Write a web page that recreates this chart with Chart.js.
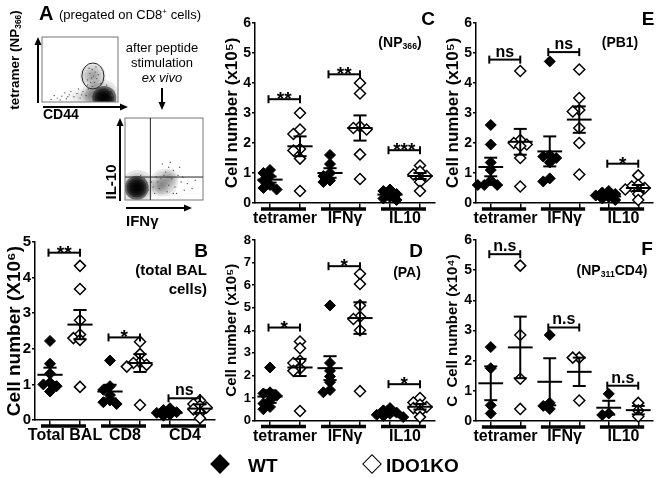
<!DOCTYPE html>
<html>
<head>
<meta charset="utf-8">
<script src="https://cdn.jsdelivr.net/npm/chart.js@4.4.0/dist/chart.umd.min.js"></script>
<style>
  body { margin: 0; width: 664px; height: 478px; position: relative; background: #fff; overflow: hidden;
         font-family: "Liberation Sans", Arial, sans-serif; color: #000; }
  canvas { position: absolute; }
  .t { position: absolute; white-space: nowrap; line-height: 1; font-weight: bold; }
  .n { font-weight: normal; }
  .c { transform: translate(-50%, -50%); }
  .r { transform: translate(-100%, -50%); }
  .l { transform: translate(0, -50%); }
  .rot { transform: translate(-50%, -50%) rotate(-90deg); }
  sub, sup { font-size: 0.62em; line-height: 0; }
  sub { vertical-align: -0.25em; }
  sup { vertical-align: 0.55em; }
  .dia { position: absolute; width: 14px; height: 14px; transform: translate(-50%, -50%) rotate(45deg); box-sizing: border-box; }
</style>
</head>
<body>
<canvas id="flowTop" style="left:0;top:20px" width="135" height="100"></canvas>
<canvas id="flowBottom" style="left:100px;top:80px" width="120" height="140"></canvas>
<canvas id="chartC" style="left:220px;top:0" width="222" height="240"></canvas>
<canvas id="chartE" style="left:441px;top:0" width="223" height="240"></canvas>
<canvas id="chartB" style="left:0;top:230px" width="222" height="250"></canvas>
<canvas id="chartD" style="left:220px;top:230px" width="222" height="250"></canvas>
<canvas id="chartF" style="left:441px;top:230px" width="223" height="250"></canvas>

<!-- panel A text -->
<div class="t l" style="left:39px;top:13px;font-size:20px">A</div>
<div class="t l n" style="left:59px;top:14px;font-size:13px">(pregated on CD8<sup>+</sup> cells)</div>
<div class="t rot" style="left:15px;top:60px;font-size:13.5px">tetramer (NP<sub>366</sub>)</div>
<div class="t l" style="left:43px;top:114px;font-size:14px">CD44</div>
<div class="t c n" style="left:162px;top:47px;font-size:13px">after peptide</div>
<div class="t c n" style="left:162px;top:62px;font-size:13px">stimulation</div>
<div class="t c n" style="left:162px;top:77px;font-size:13px;font-style:italic">ex vivo</div>
<div class="t rot" style="left:110px;top:182px;font-size:15px">IL-10</div>
<div class="t l" style="left:126px;top:220px;font-size:15px">IFNγ</div>

<!-- panel letters / notes -->
<div class="t c" style="left:201px;top:250px;font-size:19px">B</div>
<div class="t r" style="left:207px;top:269px;font-size:15px">(total BAL</div>
<div class="t r" style="left:207px;top:288px;font-size:15px">cells)</div>
<div class="t c" style="left:428px;top:18px;font-size:19px">C</div>
<div class="t c" style="left:400px;top:42px;font-size:14px">(NP<sub>366</sub>)</div>
<div class="t c" style="left:416px;top:250px;font-size:19px">D</div>
<div class="t c" style="left:407px;top:272px;font-size:14px">(PA)</div>
<div class="t c" style="left:648px;top:18px;font-size:19px">E</div>
<div class="t c" style="left:620px;top:42px;font-size:14px">(PB1)</div>
<div class="t c" style="left:647px;top:248px;font-size:19px">F</div>
<div class="t c" style="left:612px;top:270px;font-size:14px">(NP<sub>311</sub>CD4)</div>

<!-- legend -->
<div class="dia" style="left:220px;top:464px;background:#000"></div>
<div class="t l" style="left:248px;top:465px;font-size:19px">WT</div>
<div class="dia" style="left:372px;top:464px;border:1.3px solid #000;background:#fff"></div>
<div class="t l" style="left:386px;top:465px;font-size:19px">IDO1KO</div>

<script>
const FONT = '"Liberation Sans", Arial, sans-serif';

// ---- categories ----
const groupsB = ['Total BAL', 'CD8', 'CD4'];
const groupsT = ['tetramer', 'IFNγ', 'IL10'];

// ---- B: total BAL cells (x10^6) ----
const wtB = [[2.22, 1.58, 1.3, 1.05, 1.0, 0.95, 0.8], [1.67, 0.95, 0.85, 0.7, 0.55, 0.5, 0.45], [0.33, 0.28, 0.22, 0.2, 0.15, 0.12]];
const koB = [[4.33, 3.68, 2.8, 2.4, 2.3, 2.25, 0.93], [2.2, 1.85, 1.62, 1.6, 1.55, 1.5, 0.42], [0.55, 0.45, 0.4, 0.35, 0.3, 0.2, 0.05]];
const wtMeanB = [1.27, 0.8, 0.2], wtSemB = [0.2, 0.19, 0.04];
const koMeanB = [2.68, 1.6, 0.32], koSemB = [0.41, 0.25, 0.12];
const sigYB = [4.7, 2.32, 0.61], sigB = ['**', '*', 'ns'];

// ---- C: NP366 (x10^5) ----
const wtC = [[1.1, 1.0, 0.9, 0.75, 0.6, 0.5, 0.45], [1.6, 1.3, 1.0, 0.9, 0.75, 0.7], [0.45, 0.4, 0.3, 0.2, 0.15, 0.1]];
const koC = [[3.0, 2.45, 2.3, 1.8, 1.75, 1.48, 0.4], [4.0, 3.65, 2.55, 2.5, 2.45, 1.62, 0.8], [1.25, 1.05, 0.95, 0.9, 0.7, 0.4]];
const wtMeanC = [0.78, 1.0, 0.28], wtSemC = [0.1, 0.16, 0.06];
const koMeanC = [1.89, 2.5, 0.9], koSemC = [0.33, 0.42, 0.1];
const sigYC = [3.46, 4.29, 1.76], sigC = ['**', '**', '***'];

// ---- D: PA (x10^5) ----
const wtD = [[2.35, 1.25, 1.2, 1.1, 0.9, 0.75, 0.6, 0.5], [5.1, 2.55, 2.2, 1.95, 1.7, 1.35, 1.25], [0.55, 0.45, 0.35, 0.3, 0.25, 0.2, 0.15]];
const koD = [[3.5, 3.2, 2.65, 2.55, 2.3, 2.2, 0.42], [6.5, 6.05, 5.1, 4.6, 4.5, 4.0, 1.3], [1.0, 0.8, 0.7, 0.6, 0.55, 0.4, 0.15]];
const wtMeanD = [1.06, 2.32, 0.3], wtSemD = [0.28, 0.53, 0.07];
const koMeanD = [2.35, 4.54, 0.61], koSemD = [0.38, 0.7, 0.12];
const sigYD = [4.12, 6.84, 1.61], sigD = ['*', '*', '*'];

// ---- E: PB1 (x10^5) ----
const wtE = [[2.6, 1.95, 1.35, 1.1, 0.75, 0.6, 0.6, 0.6], [4.72, 1.6, 1.55, 1.5, 1.35, 0.82, 0.72], [0.4, 0.35, 0.3, 0.25, 0.2, 0.15, 0.1]];
const koE = [[4.4, 2.1, 2.0, 1.95, 1.9, 1.5, 0.55], [4.45, 3.5, 3.1, 3.05, 2.5, 2.0, 0.95], [0.92, 0.6, 0.55, 0.5, 0.45, 0.3, 0.1]];
const wtMeanE = [1.2, 1.72, 0.22], wtSemE = [0.31, 0.5, 0.05];
const koMeanE = [2.04, 2.78, 0.5], koSemE = [0.43, 0.44, 0.1];
const sigYE = [4.78, 5.03, 1.31], sigE = ['ns', 'ns', '*'];

// ---- F: NP311 CD4 (x10^4) ----
const wtF = [[2.45, 1.75, 0.52, 0.25], [2.85, 0.6, 0.5, 0.4], [0.9, 0.25, 0.2]];
const koF = [[5.15, 2.85, 1.4, 0.4], [2.1, 2.1, 0.68], [0.6, 0.35, 0.15]];
const wtMeanF = [1.25, 1.3, 0.44], wtSemF = [0.56, 0.78, 0.23];
const koMeanF = [2.44, 1.63, 0.36], koSemF = [1.02, 0.47, 0.14];
const sigYF = [5.53, 3.1, 1.17], sigF = ['n.s', 'n.s', 'n.s'];

// ---- A: flow plots (0-100 axes), [x, y, radius px, peak darkness] ----
const topBlobs = [[79, 9, 17, 0.35], [68, 12, 12, 0.3], [58, 8, 10, 0.18], [45, 7, 9, 0.1], [67, 40, 13, 0.35], [82, 6, 12, 0.97]];
const topDots = [[60, 34], [63, 44], [66, 50], [70, 46], [72, 36], [64, 30], [68, 40], [62, 52], [74, 42], [69, 30], [65, 37], [71, 54],
  [20, 6], [26, 9], [32, 5], [36, 11], [42, 8], [46, 13], [50, 6], [54, 16], [58, 10], [61, 20], [66, 24], [74, 22], [88, 18],
  [92, 10], [95, 4], [85, 26], [12, 4], [38, 16], [48, 20], [30, 14], [16, 10], [24, 3], [34, 8], [52, 11], [77, 28], [60, 26]];
const topGate = [67, 40, 14.5, 20];
const bottomBlobs = [[16, 16, 17, 0.4], [50, 21, 14, 0.35], [44, 16, 9, 0.25], [58, 28, 9, 0.2], [15, 15, 12, 0.97]];
const bottomDots = [[30, 12], [34, 22], [40, 28], [44, 14], [52, 34], [56, 40], [60, 26], [64, 16], [68, 30], [72, 22], [76, 12], [80, 20],
  [48, 44], [58, 46], [62, 36], [70, 40], [38, 8], [86, 14], [90, 24], [25, 26], [20, 30], [54, 10], [46, 26], [66, 8],
  [36, 16], [42, 22], [56, 18], [62, 8], [74, 28], [50, 30]];
const bottomQuad = [32.5, 28];

/* ---------------- helpers ---------------- */
function strokeLine(ctx, x1, y1, x2, y2) {
  ctx.beginPath(); ctx.moveTo(x1, y1); ctx.lineTo(x2, y2); ctx.stroke();
}

function arrow(ctx, x1, y1, x2, y2) {
  strokeLine(ctx, x1, y1, x2, y2);
  const ang = Math.atan2(y2 - y1, x2 - x1);
  ctx.beginPath();
  ctx.moveTo(x2 + Math.cos(ang) * 2, y2 + Math.sin(ang) * 2);
  ctx.lineTo(x2 - Math.cos(ang) * 6 - Math.sin(ang) * 3.5, y2 - Math.sin(ang) * 6 + Math.cos(ang) * 3.5);
  ctx.lineTo(x2 - Math.cos(ang) * 6 + Math.sin(ang) * 3.5, y2 - Math.sin(ang) * 6 - Math.cos(ang) * 3.5);
  ctx.closePath(); ctx.fill();
}

// spread points of the same column sideways when they would overlap
function swarm(groups, start, maxY) {
  const thr = 5 * maxY / 180;
  const step = 0.22;
  const out = [];
  groups.forEach((vals, g) => {
    const cx = start + 2 * g;
    const placed = [];
    [...vals].sort((a, b) => b - a).forEach(v => {
      const offs = [0, -step, step, -2 * step, 2 * step, -3 * step, 3 * step];
      const dx = offs.find(o => placed.every(p => Math.abs(p.y - v) >= thr || Math.abs(p.x - (cx + o)) >= step * 0.95));
      placed.push({ x: cx + (dx === undefined ? 0 : dx), y: v });
    });
    out.push(...placed);
  });
  return out;
}

// soft blob: stack of concentric discs so the centre is darkest
function blobLayers(blobs) {
  const pts = [], cols = [];
  blobs.forEach(([x, y, r, a]) => {
    const n = 5;
    const each = 1 - Math.pow(1 - a, 1 / n);
    for (let k = 0; k < n; k++) {
      pts.push({ x, y, r: r * (1 - k * 0.18) });
      cols.push(`rgba(0,0,0,${each.toFixed(3)})`);
    }
  });
  return { pts, cols };
}

const dotDecor = {
  id: 'dotDecor',
  afterDraw(chart, args, o) {
    const { ctx, chartArea: a } = chart;
    const px = v => chart.scales.x.getPixelForValue(v);
    const py = v => chart.scales.y.getPixelForValue(v);
    ctx.save();
    ctx.strokeStyle = '#000'; ctx.fillStyle = '#000';

    // thick bar under each pair
    ctx.lineWidth = 3.5;
    for (let g = 0; g < 3; g++) strokeLine(ctx, px(2 * g + 0.7), a.bottom + 6, px(2 * g + 2.2), a.bottom + 6);

    // mean ± SEM
    ctx.lineWidth = 2;
    [[o.wtMean, o.wtSem, 1], [o.koMean, o.koSem, 2]].forEach(([m, s, start]) => {
      m.forEach((mv, g) => {
        const cx = start + 2 * g;
        strokeLine(ctx, px(cx - 0.42), py(mv), px(cx + 0.42), py(mv));
        strokeLine(ctx, px(cx), py(mv - s[g]), px(cx), py(mv + s[g]));
        strokeLine(ctx, px(cx - 0.22), py(mv + s[g]), px(cx + 0.22), py(mv + s[g]));
        strokeLine(ctx, px(cx - 0.22), py(mv - s[g]), px(cx + 0.22), py(mv - s[g]));
      });
    });

    // significance brackets
    o.sigY.forEach((h, g) => {
      const x1 = px(2 * g + 0.95), x2 = px(2 * g + 2.0), yy = py(h);
      strokeLine(ctx, x1, yy, x2, yy);
      strokeLine(ctx, x1, yy - 4, x1, yy + 4);
      strokeLine(ctx, x2, yy - 4, x2, yy + 4);
      const t = o.sig[g];
      const star = t.includes('*');
      ctx.font = `bold ${star ? 19 : 16}px ${FONT}`;
      ctx.textAlign = 'center'; ctx.textBaseline = 'alphabetic';
      ctx.fillText(t, (x1 + x2) / 2, star ? yy + 6 : yy - 3);
    });
    ctx.restore();
  }
};

function makeDotPlot(id, cfg) {
  const xTicks = [1, 1.5, 2, 3, 3.5, 4, 5, 5.5, 6];
  new Chart(document.getElementById(id), {
    type: 'scatter',
    data: {
      datasets: [
        { label: 'WT', data: swarm(cfg.wt, 1, cfg.max), pointStyle: 'rectRot', pointRadius: 5.5,
          backgroundColor: '#000', borderColor: '#000', borderWidth: 1, clip: false },
        { label: 'IDO1KO', data: swarm(cfg.ko, 2, cfg.max), pointStyle: 'rectRot', pointRadius: 5.5,
          backgroundColor: '#fff', borderColor: '#000', borderWidth: 1.5, clip: false }
      ]
    },
    options: {
      responsive: false,
      animation: false,
      layout: { padding: cfg.pad },
      plugins: {
        legend: { display: false },
        tooltip: { enabled: false },
        dotDecor: {
          wtMean: cfg.wtMean, wtSem: cfg.wtSem, koMean: cfg.koMean, koSem: cfg.koSem,
          sigY: cfg.sigY, sig: cfg.sig
        }
      },
      scales: {
        x: {
          type: 'linear', min: 0.5, max: 6.5,
          afterBuildTicks: s => { s.ticks = xTicks.map(v => ({ value: v })); },
          afterFit: s => { s.height = 30; },
          ticks: {
            autoSkip: false, maxRotation: 0, padding: 1, color: '#000',
            font: { family: FONT, size: 16, weight: 'bold' },
            callback: v => (v % 1 === 0.5 ? cfg.groups[(v - 1.5) / 2] : '')
          },
          grid: {
            drawOnChartArea: false, tickLength: 5, lineWidth: 1.5,
            tickColor: c => (c.tick && c.tick.value % 1 === 0.5 ? 'rgba(0,0,0,0)' : '#000')
          },
          border: { color: '#000', width: 1.5 }
        },
        y: {
          min: 0, max: cfg.max,
          afterFit: s => { s.width = 35; },
          ticks: { stepSize: 1, padding: 1, color: '#000', font: { family: FONT, size: cfg.tickSize, weight: 'bold' } },
          grid: { drawOnChartArea: false, tickLength: 3, lineWidth: 1.5, color: '#000' },
          border: { color: '#000', width: 1.5 },
          title: {
            display: true, text: cfg.title, color: '#000',
            font: { family: FONT, size: cfg.titleSize, weight: 'bold' },
            padding: { top: cfg.titlePad, bottom: 0 }
          }
        }
      }
    },
    plugins: [dotDecor]
  });
}

const flowDecor = {
  id: 'flowDecor',
  afterDraw(chart, args, o) {
    const { ctx, chartArea: a } = chart;
    const px = v => chart.scales.x.getPixelForValue(v);
    const py = v => chart.scales.y.getPixelForValue(v);
    ctx.save();
    ctx.strokeStyle = '#777'; ctx.lineWidth = 1;
    ctx.strokeRect(a.left, a.top, a.right - a.left, a.bottom - a.top);
    ctx.strokeStyle = '#222';
    if (o.gate) {
      ctx.beginPath();
      ctx.ellipse(px(o.gate[0]), py(o.gate[1]), px(o.gate[2]) - px(0), py(0) - py(o.gate[3]), 0, 0, Math.PI * 2);
      ctx.stroke();
    }
    if (o.quad) {
      strokeLine(ctx, px(o.quad[0]), a.top, px(o.quad[0]), a.bottom);
      strokeLine(ctx, a.left, py(o.quad[1]), a.right, py(o.quad[1]));
    }
    ctx.strokeStyle = '#000'; ctx.fillStyle = '#000'; ctx.lineWidth = 2;
    arrow(ctx, a.left + 1, a.bottom + o.xGap, a.left + o.xLen, a.bottom + o.xGap);
    arrow(ctx, a.left - o.yGap, a.bottom + 1, a.left - o.yGap, a.top + 2);
    if (o.down) arrow(ctx, a.left + 37, a.top - 30, a.left + 37, a.top - 10);
    ctx.restore();
  }
};

function makeFlow(id, blobs, dots, pad, decor) {
  const soft = blobLayers(blobs);
  new Chart(document.getElementById(id), {
    type: 'bubble',
    data: {
      datasets: [
        { data: dots.map(([x, y]) => ({ x, y, r: 0.7 })), backgroundColor: '#555', borderWidth: 0 },
        { data: soft.pts, backgroundColor: soft.cols, borderWidth: 0 }
      ]
    },
    options: {
      responsive: false, animation: false,
      layout: { padding: pad },
      plugins: { legend: { display: false }, tooltip: { enabled: false }, flowDecor: decor },
      scales: {
        x: { min: 0, max: 100, display: false },
        y: { min: 0, max: 100, display: false }
      }
    },
    plugins: [flowDecor]
  });
}

makeFlow('flowTop', topBlobs, topDots, { left: 42, right: 10, top: 7, bottom: 18 },
  { gate: topGate, xGap: 5, xLen: 84, yGap: 4 });
makeFlow('flowBottom', bottomBlobs, bottomDots, { left: 25, right: 12, top: 38, bottom: 20 },
  { quad: bottomQuad, xGap: 8, xLen: 65, yGap: 5, down: true });

makeDotPlot('chartB', {
  groups: groupsB, wt: wtB, ko: koB, wtMean: wtMeanB, wtSem: wtSemB, koMean: koMeanB, koSem: koSemB,
  sigY: sigYB, sig: sigB, max: 5, tickSize: 15, title: 'Cell number (X10⁶)', titleSize: 19, titlePad: 3,
  pad: { left: 0, right: 5, top: 12, bottom: 30 }
});
makeDotPlot('chartC', {
  groups: groupsT, wt: wtC, ko: koC, wtMean: wtMeanC, wtSem: wtSemC, koMean: koMeanC, koSem: koSemC,
  sigY: sigYC, sig: sigC, max: 6, tickSize: 14, title: 'Cell number (x10⁵)', titleSize: 17, titlePad: 2,
  pad: { left: 0, right: 4, top: 23, bottom: 7 }
});
makeDotPlot('chartD', {
  groups: groupsT, wt: wtD, ko: koD, wtMean: wtMeanD, wtSem: wtSemD, koMean: koMeanD, koSem: koSemD,
  sigY: sigYD, sig: sigD, max: 8, tickSize: 13, title: 'Cell number (x10⁵)', titleSize: 15, titlePad: 3,
  pad: { left: 0, right: 4, top: 10, bottom: 29.5 }
});
makeDotPlot('chartE', {
  groups: groupsT, wt: wtE, ko: koE, wtMean: wtMeanE, wtSem: wtSemE, koMean: koMeanE, koSem: koSemE,
  sigY: sigYE, sig: sigE, max: 6, tickSize: 14, title: 'Cell number (x10⁵)', titleSize: 17, titlePad: 2,
  pad: { left: 0, right: 11, top: 23, bottom: 7 }
});
makeDotPlot('chartF', {
  groups: groupsT, wt: wtF, ko: koF, wtMean: wtMeanF, wtSem: wtSemF, koMean: koMeanF, koSem: koSemF,
  sigY: sigYF, sig: sigF, max: 6, tickSize: 14, title: 'C  Cell number (x10⁴)', titleSize: 15, titlePad: 3,
  pad: { left: 0, right: 11, top: 10, bottom: 29 }
});
</script>
</body>
</html>
